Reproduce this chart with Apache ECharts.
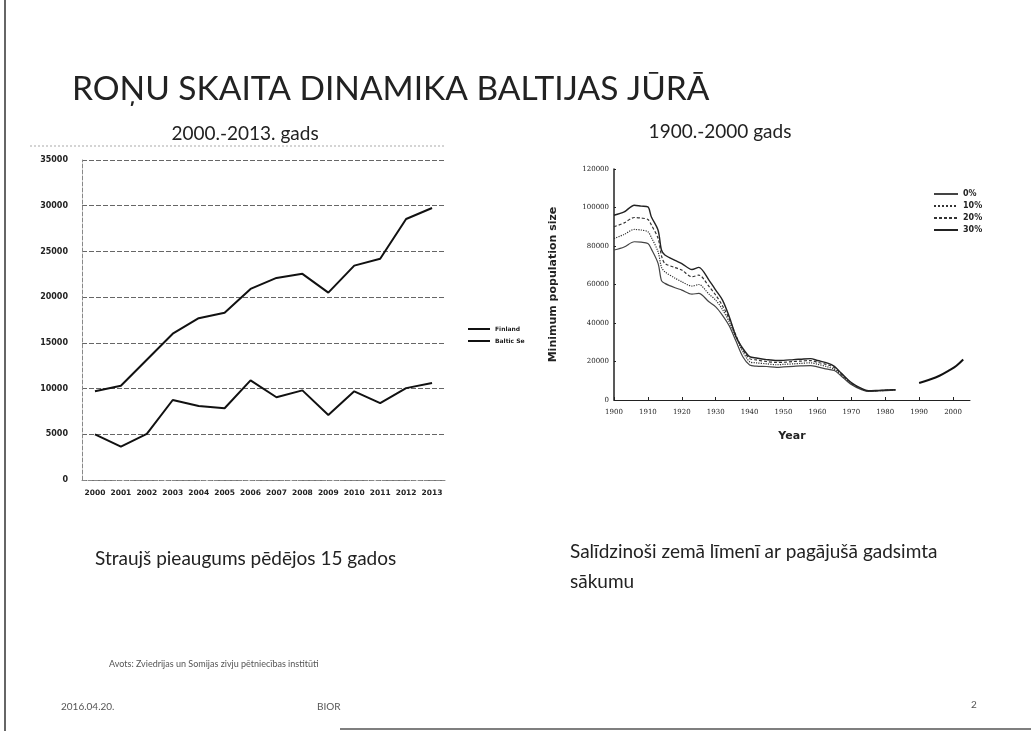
<!DOCTYPE html>
<html>
<head>
<meta charset="utf-8">
<title>Roņu skaita dinamika</title>
<script src="https://cdn.jsdelivr.net/npm/echarts@6/dist/echarts.min.js"></script>
<style>
  html, body { margin: 0; padding: 0; background: #fff; }
  #chart { width: 1031px; height: 731px; }
</style>
</head>
<body>
<div id="chart"></div>
<script>
// 2000.-2013. gads
var years = ['2000', '2001', '2002', '2003', '2004', '2005', '2006', '2007', '2008', '2009', '2010', '2011', '2012', '2013'];
var finland = [5000, 3650, 5050, 8750, 8100, 7850, 10900, 9050, 9800, 7100, 9700, 8400, 10050, 10600];
var balticSea = [9700, 10300, 13150, 16000, 17700, 18300, 20900, 22100, 22550, 20500, 23450, 24200, 28550, 29750];

// 1900.-2000 gads
var histYears = [1900, 1903, 1906, 1908, 1910, 1911, 1913, 1914, 1915, 1918, 1920, 1923, 1925, 1928, 1930,
  1932, 1934, 1936, 1938, 1940, 1942, 1945, 1948, 1950, 1953, 1955, 1958, 1960, 1963, 1965, 1967, 1970,
  1973, 1975, 1978, 1983];
var pct30 = [96000, 97700, 101200, 100700, 100300, 95200, 88200, 77900, 75300, 72500, 70900, 67800, 68900,
  62300, 57100, 51900, 43300, 32900, 26800, 22500, 21800, 21000, 20500, 20600, 21000, 21200, 21500, 20500,
  19200, 17500, 14000, 9000, 6000, 4800, 5000, 5400];
var pct20 = [90000, 92000, 94800, 94500, 93800, 91000, 84000, 75000, 71000, 68800, 67500, 64000, 64900,
  59000, 54500, 49000, 42000, 33500, 26000, 21500, 20800, 20000, 19500, 19600, 20000, 20200, 20500, 19600,
  18300, 16800, 13500, 8700, 5800, 4700, 4900, 5300];
var pct10 = [83900, 86000, 88600, 88300, 87400, 84500, 77000, 69000, 66600, 63300, 61400, 59200, 60000,
  55000, 51900, 47000, 40500, 32500, 25100, 19900, 19300, 18800, 18300, 18500, 18800, 19000, 19300, 18600,
  17200, 16000, 13000, 8400, 5600, 4600, 4800, 5200];
var pct0 = [77900, 79500, 82200, 82000, 81300, 78500, 71000, 62000, 60600, 58300, 57100, 55000, 55400,
  51000, 48400, 44000, 38500, 30500, 22500, 18200, 17600, 17400, 17000, 17200, 17500, 17700, 17900, 17200,
  16000, 15300, 12500, 8000, 5300, 4500, 4700, 5100];
var recentYears = [1990, 1993, 1996, 1999, 2001, 2003];
var recentValues = [8800, 10500, 12600, 15500, 17800, 21000];

function pairs(xs, ys) {
  return xs.map(function (x, i) { return [x, ys[i]]; });
}
function plain(v) { return String(v); }

var slideFont = 'Lato, "Open Sans", sans-serif';
var myChart = echarts.init(document.getElementById('chart'));

var option = {
  backgroundColor: '#fff',
  animation: false,
  title: [
    { text: 'ROŅU SKAITA DINAMIKA BALTIJAS JŪRĀ', left: 67, top: 67,
      textStyle: { fontFamily: slideFont, fontSize: 33.5, fontWeight: 'normal', color: '#222' } },
    { text: '2000.-2013. gads', left: 240, top: 119, textAlign: 'center',
      textStyle: { fontFamily: slideFont, fontSize: 19, fontWeight: 'normal', color: '#222' } },
    { text: '1900.-2000 gads', left: 715, top: 117, textAlign: 'center',
      textStyle: { fontFamily: slideFont, fontSize: 19, fontWeight: 'normal', color: '#222' } },
    { text: 'Straujš pieaugums pēdējos 15 gados', left: 90, top: 544,
      textStyle: { fontFamily: slideFont, fontSize: 19, fontWeight: 'normal', color: '#222' } },
    { text: 'Salīdzinoši zemā līmenī ar pagājušā gadsimta\nsākumu', left: 565, top: 532,
      textStyle: { fontFamily: slideFont, fontSize: 19, fontWeight: 'normal', color: '#222', lineHeight: 30 } },
    { text: 'Avots: Zviedrijas un Somijas zivju pētniecības institūti', left: 104, top: 655,
      textStyle: { fontFamily: slideFont, fontSize: 9, fontWeight: 'normal', color: '#555' } },
    { text: '2016.04.20.', left: 56, top: 697,
      textStyle: { fontFamily: slideFont, fontSize: 10, fontWeight: 'normal', color: '#555' } },
    { text: 'BIOR', left: 312, top: 697,
      textStyle: { fontFamily: slideFont, fontSize: 10, fontWeight: 'normal', color: '#555' } },
    { text: '2', left: 966, top: 695,
      textStyle: { fontFamily: slideFont, fontSize: 10, fontWeight: 'normal', color: '#555' } }
  ],
  graphic: [
    { type: 'line', shape: { x1: 5, y1: 0, x2: 5, y2: 731 }, style: { stroke: '#333', lineWidth: 1.5 } },
    { type: 'line', shape: { x1: 340, y1: 729, x2: 1031, y2: 729 }, style: { stroke: '#555', lineWidth: 1.5 } },
    { type: 'line', shape: { x1: 30, y1: 146, x2: 446, y2: 146 }, style: { stroke: '#aaa', lineWidth: 1, lineDash: [2, 2] } }
  ],
  legend: [
    { data: ['Finland', 'Baltic Sea'], orient: 'vertical', left: 462, top: 321, itemGap: 6,
      itemWidth: 22, itemHeight: 6, itemStyle: { opacity: 0 },
      textStyle: { fontFamily: 'DejaVu Sans', fontSize: 6, fontWeight: 'bold', color: '#222',
        width: 33, overflow: 'truncate', ellipsis: '' } },
    { data: ['0%', '10%', '20%', '30%'], orient: 'vertical', left: 928, top: 185, itemGap: 4,
      itemWidth: 24, itemHeight: 8, itemStyle: { opacity: 0 },
      textStyle: { fontFamily: 'DejaVu Sans', fontSize: 8, fontWeight: 'bold', color: '#222' } }
  ],
  grid: [
    { left: 82, top: 160, width: 363, height: 320 },
    { left: 614, top: 169, width: 356, height: 231 }
  ],
  xAxis: [
    { gridIndex: 0, type: 'category', data: years, boundaryGap: true,
      axisLine: { lineStyle: { color: '#888', type: 'dashed' } },
      axisTick: { show: false },
      axisLabel: { interval: 0, fontFamily: 'DejaVu Sans', fontSize: 7.5, fontWeight: 'bold', color: '#222', margin: 9 } },
    { gridIndex: 1, type: 'value', min: 1900, max: 2005, interval: 10,
      name: 'Year', nameLocation: 'middle', nameGap: 31,
      nameTextStyle: { fontFamily: 'DejaVu Sans', fontSize: 11, fontWeight: 'bold', color: '#222' },
      axisLine: { lineStyle: { color: '#222', width: 1 } },
      axisTick: { inside: true, length: 3, lineStyle: { color: '#222' } },
      splitLine: { show: false },
      axisLabel: { showMaxLabel: false, formatter: plain, fontFamily: 'DejaVu Serif', fontSize: 7, color: '#222', margin: 9 } }
  ],
  yAxis: [
    { gridIndex: 0, type: 'value', min: 0, max: 35000, interval: 5000,
      axisLine: { show: true, lineStyle: { color: '#888', type: 'dashed' } },
      axisTick: { show: false },
      splitLine: { lineStyle: { color: '#666', type: [5, 2], width: 1 } },
      axisLabel: { formatter: plain, fontFamily: 'DejaVu Sans', fontSize: 8, fontWeight: 'bold', color: '#222', margin: 14 } },
    { gridIndex: 1, type: 'value', min: 0, max: 120000, interval: 20000,
      name: 'Minimum population size', nameLocation: 'middle', nameGap: 55, nameRotate: 90,
      nameTextStyle: { fontFamily: 'DejaVu Sans', fontSize: 11, fontWeight: 'bold', color: '#222' },
      axisLine: { show: true, lineStyle: { color: '#222', width: 1.5 } },
      axisTick: { show: true, inside: true, length: 2, lineStyle: { color: '#222' } },
      splitLine: { show: false },
      axisLabel: { formatter: plain, fontFamily: 'DejaVu Serif', fontSize: 7, color: '#222', margin: 5 } }
  ],
  series: [
    { name: 'Finland', type: 'line', xAxisIndex: 0, yAxisIndex: 0, data: finland,
      symbol: 'none', lineStyle: { color: '#111', width: 2 }, itemStyle: { color: '#111' } },
    { name: 'Baltic Sea', type: 'line', xAxisIndex: 0, yAxisIndex: 0, data: balticSea,
      symbol: 'none', lineStyle: { color: '#111', width: 2 }, itemStyle: { color: '#111' } },
    { name: '0%', type: 'line', xAxisIndex: 1, yAxisIndex: 1, data: pairs(histYears, pct0),
      symbol: 'none', smooth: 0.3, lineStyle: { color: '#444', width: 1.2, type: 'solid' }, itemStyle: { color: '#777' } },
    { name: '10%', type: 'line', xAxisIndex: 1, yAxisIndex: 1, data: pairs(histYears, pct10),
      symbol: 'none', smooth: 0.3, lineStyle: { color: '#333', width: 1.2, type: 'dotted' }, itemStyle: { color: '#333' } },
    { name: '20%', type: 'line', xAxisIndex: 1, yAxisIndex: 1, data: pairs(histYears, pct20),
      symbol: 'none', smooth: 0.3, lineStyle: { color: '#333', width: 1.2, type: [3, 2] }, itemStyle: { color: '#333' } },
    { name: '30%', type: 'line', xAxisIndex: 1, yAxisIndex: 1, data: pairs(histYears, pct30),
      symbol: 'none', smooth: 0.3, lineStyle: { color: '#222', width: 1.4, type: 'solid' }, itemStyle: { color: '#222' } },
    { name: 'recent', type: 'line', xAxisIndex: 1, yAxisIndex: 1, data: pairs(recentYears, recentValues),
      symbol: 'none', smooth: 0.4, lineStyle: { color: '#111', width: 2 } }
  ]
};
myChart.setOption(option);
</script>
</body>
</html>
